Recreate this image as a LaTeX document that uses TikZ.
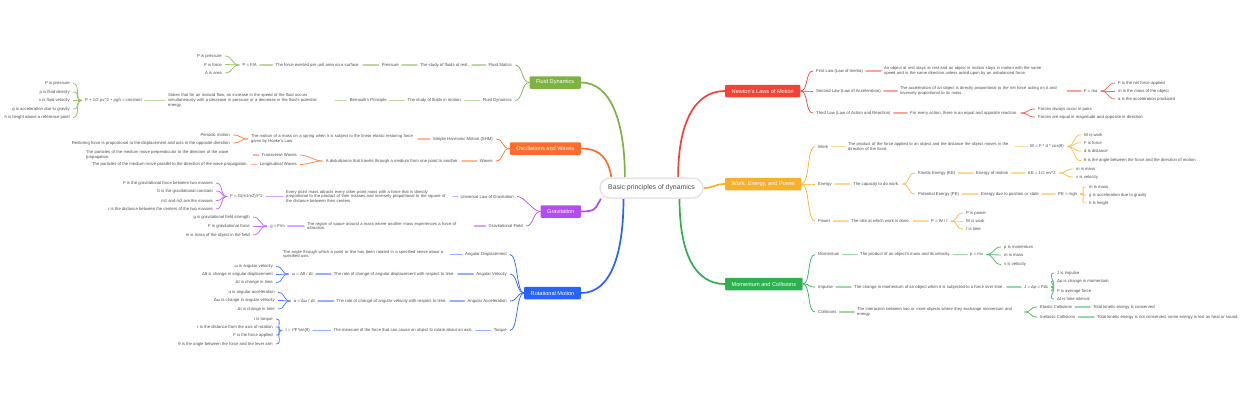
\documentclass[tikz,border=0pt]{standalone}
\usepackage{fontspec}
\setmainfont{Liberation Sans}
\usetikzlibrary{backgrounds}

\definecolor{fluidC}{HTML}{7CB342}
\definecolor{oscC}{HTML}{FF6D2D}
\definecolor{gravC}{HTML}{B34CF3}
\definecolor{rotC}{HTML}{2962FF}
\definecolor{newtC}{HTML}{F44336}
\definecolor{workC}{HTML}{F7B02A}
\definecolor{momC}{HTML}{2DB14F}
\definecolor{txtC}{HTML}{4D4D4D}

\tikzset{
  root/.style={
    draw=gray!20, line width=1.5pt, fill=white, rounded corners=10pt,
    minimum width=103pt, minimum height=20pt, text=txtC,
    font=\fontsize{6.9}{8}\selectfont
  },
  topic/.style={
    fill=#1, text=white, rounded corners=1pt,
    minimum height=12.5pt, inner xsep=6.5pt,
    font=\fontsize{5.6}{6.5}\selectfont
  },
  sub/.style={
    text=txtC, inner xsep=3pt, inner ysep=1pt,
    font=\fontsize{4.25}{4.7}\selectfont
  },
  desc/.style={sub, text width=164pt, align=left,
    font=\fontsize{4.15}{4.7}\selectfont},
  trunk/.style={draw=#1, line width=1.7pt},
  twig/.style={draw=#1, line width=0.7pt},
  brc/.style={draw=#1!80, line width=0.8pt},
  lnk/.style={draw=#1!50, line width=1.5pt, line cap=round},
  br/.style={out=0, in=180, distance=8pt},
  bl/.style={out=180, in=0, distance=8pt}
}

\begin{document}
\begin{tikzpicture}[x=1pt, y=-1pt]
\useasboundingbox (0,0) rectangle (1240,400);

% ---------- centre ----------
\node[root] (root) at (651.5,188) {Basic principles of dynamics};

% ---------- Fluid Dynamics ----------
\node[topic=fluidC, anchor=east] (fluid) at (581,82.5) {Fluid Dynamics};
\node[sub, anchor=east] (statics) at (515,65) {Fluid Statics};
\node[sub, anchor=east] (staticsD) at (472,65) {The study of fluids at rest.};
\node[sub, anchor=east] (press) at (402,65) {Pressure};
\node[sub, anchor=east] (pressD) at (363,65) {The force exerted per unit area on a surface.};
\node[sub, anchor=east] (pressF) at (260,65) {P = F/A};
\node[sub, anchor=east] (pressF1) at (225,56) {P is pressure};
\node[sub, anchor=east] (pressF2) at (225,64.5) {F is force};
\node[sub, anchor=east] (pressF3) at (225,73) {A is area};
\node[sub, anchor=east] (fdyn) at (515,100.5) {Fluid Dynamics};
\node[sub, anchor=east] (fdynD) at (465,100.5) {The study of fluids in motion.};
\node[sub, anchor=east] (bern) at (390,100.5) {Bernoulli's Principle};
\node[desc, anchor=west] (bernD) at (165,100.5) {States that for an inviscid flow, an increase in the speed of the fluid occurs\\simultaneously with a decrease in pressure or a decrease in the fluid's potential\\energy.};
\node[sub, anchor=east] (bernF) at (145,100.5) {P + 1/2 ρv\textasciicircum 2 + ρgh = constant};
\node[sub, anchor=east] (bernF1) at (73,83.5) {P is pressure};
\node[sub, anchor=east] (bernF2) at (73,92) {ρ is fluid density};
\node[sub, anchor=east] (bernF3) at (73,100.5) {v is fluid velocity};
\node[sub, anchor=east] (bernF4) at (73,109) {g is acceleration due to gravity};
\node[sub, anchor=east] (bernF5) at (73,117.5) {h is height above a reference point};

\draw[twig=fluidC] (fluid.west) to[bl] (statics.east);
\draw[twig=fluidC] (fluid.west) to[bl] (fdyn.east);
\draw[lnk=fluidC] (statics) -- (staticsD);
\draw[lnk=fluidC] (staticsD) -- (press);
\draw[lnk=fluidC] (press) -- (pressD);
\draw[lnk=fluidC] (pressD) -- (pressF);
\draw[brc=fluidC] (pressF.west) to[bl] (pressF1.east);
\draw[brc=fluidC] (pressF.west) to[bl] (pressF2.east);
\draw[brc=fluidC] (pressF.west) to[bl] (pressF3.east);
\draw[lnk=fluidC] (fdyn) -- (fdynD);
\draw[lnk=fluidC] (fdynD) -- (bern);
\draw[lnk=fluidC] (bern) -- (bernD);
\draw[lnk=fluidC] (bernD) -- (bernF);
\draw[brc=fluidC] (bernF.west) to[bl] (bernF1.east);
\draw[brc=fluidC] (bernF.west) to[bl] (bernF2.east);
\draw[brc=fluidC] (bernF.west) to[bl] (bernF3.east);
\draw[brc=fluidC] (bernF.west) to[bl] (bernF4.east);
\draw[brc=fluidC] (bernF.west) to[bl] (bernF5.east);

% ---------- Oscillations and Waves ----------
\node[topic=oscC, anchor=east] (osc) at (581,148.5) {Oscillations and Waves};
\node[sub, anchor=east] (shm) at (496,139) {Simple Harmonic Motion (SHM)};
\node[desc, anchor=west] (shmD) at (248,139) {The motion of a mass on a spring when it is subject to the linear elastic restoring force\\given by Hooke's Law.};
\node[sub, anchor=east] (shm1) at (233,135) {Periodic motion};
\node[sub, anchor=east] (shm2) at (233,143) {Restoring force is proportional to the displacement and acts in the opposite direction};
\node[sub, anchor=east] (waves) at (496,161) {Waves};
\node[sub, anchor=east] (wavesD) at (462,161) {A disturbance that travels through a medium from one point to another.};
\node[sub, anchor=east] (trans) at (300,155) {Transverse Waves};
\node[desc, anchor=west] (transD) at (83,155) {The particles of the medium move perpendicular to the direction of the wave\\propagation.};
\node[sub, anchor=east] (longi) at (300,164.5) {Longitudinal Waves};
\node[sub, anchor=east] (longiD) at (251,164.5) {The particles of the medium move parallel to the direction of the wave propagation.};

\draw[twig=oscC] (osc.west) to[bl] (shm.east);
\draw[twig=oscC] (osc.west) to[bl] (waves.east);
\draw[lnk=oscC] (shm) -- (shmD);
\draw[brc=oscC] (shmD.west) to[bl] (shm1.east);
\draw[brc=oscC] (shmD.west) to[bl] (shm2.east);
\draw[lnk=oscC] (waves) -- (wavesD);
\draw[brc=oscC] (wavesD.west) to[bl] (trans.east);
\draw[brc=oscC] (wavesD.west) to[bl] (longi.east);
\draw[lnk=oscC] (trans) -- (transD);
\draw[lnk=oscC] (longi) -- (longiD);

% ---------- Gravitation ----------
\node[topic=gravC, anchor=east] (grav) at (581,211.5) {Gravitation};
\node[sub, anchor=east] (ulg) at (517,196.5) {Universal Law of Gravitation};
\node[desc, anchor=west] (ulgD) at (283,196.5) {Every point mass attracts every other point mass with a force that is directly\\proportional to the product of their masses and inversely proportional to the square of\\the distance between their centers.};
\node[sub, anchor=east] (ulgF) at (266,196.5) {F = G(m1m2)/r\textasciicircum 2};
\node[sub, anchor=east] (ulgF1) at (216,183) {F is the gravitational force between two masses};
\node[sub, anchor=east] (ulgF2) at (216,191) {G is the gravitational constant};
\node[sub, anchor=east] (ulgF3) at (216,200.5) {m1 and m2 are the masses};
\node[sub, anchor=east] (ulgF4) at (216,209) {r is the distance between the centers of the two masses};
\node[sub, anchor=east] (field) at (526,226) {Gravitational Field};
\node[desc, anchor=west] (fieldD) at (304,226) {The region of space around a mass where another mass experiences a force of\\attraction.};
\node[sub, anchor=east] (fieldF) at (288,226) {g = F/m};
\node[sub, anchor=east] (fieldF1) at (253,217) {g is gravitational field strength};
\node[sub, anchor=east] (fieldF2) at (253,226) {F is gravitational force};
\node[sub, anchor=east] (fieldF3) at (253,235) {m is mass of the object in the field};

\draw[twig=gravC] (grav.west) to[bl] (ulg.east);
\draw[twig=gravC] (grav.west) to[bl] (field.east);
\draw[lnk=gravC] (ulg) -- (ulgD);
\draw[lnk=gravC] (ulgD) -- (ulgF);
\draw[brc=gravC] (ulgF.west) to[bl] (ulgF1.east);
\draw[brc=gravC] (ulgF.west) to[bl] (ulgF2.east);
\draw[brc=gravC] (ulgF.west) to[bl] (ulgF3.east);
\draw[brc=gravC] (ulgF.west) to[bl] (ulgF4.east);
\draw[lnk=gravC] (field) -- (fieldD);
\draw[lnk=gravC] (fieldD) -- (fieldF);
\draw[brc=gravC] (fieldF.west) to[bl] (fieldF1.east);
\draw[brc=gravC] (fieldF.west) to[bl] (fieldF2.east);
\draw[brc=gravC] (fieldF.west) to[bl] (fieldF3.east);

% ---------- Rotational Motion ----------
\node[topic=rotC, anchor=east] (rot) at (581,293) {Rotational Motion};
\node[sub, anchor=east] (angD) at (510,254.5) {Angular Displacement};
\node[desc, anchor=west] (angDD) at (280,254.5) {The angle through which a point or line has been rotated in a specified sense about a\\specified axis.};
\node[sub, anchor=east] (angV) at (510,274) {Angular Velocity};
\node[sub, anchor=east] (angVD) at (458,274) {The rate of change of angular displacement with respect to time.};
\node[sub, anchor=east] (angVF) at (316,274) {ω = Δθ / Δt};
\node[sub, anchor=east] (angVF1) at (276,266.5) {ω is angular velocity};
\node[sub, anchor=east] (angVF2) at (276,274.5) {Δθ is change in angular displacement};
\node[sub, anchor=east] (angVF3) at (276,282.5) {Δt is change in time};
\node[sub, anchor=east] (angA) at (510,301) {Angular Acceleration};
\node[sub, anchor=east] (angAD) at (450,301) {The rate of change of angular velocity with respect to time.};
\node[sub, anchor=east] (angAF) at (318,301) {α = Δω / Δt};
\node[sub, anchor=east] (angAF1) at (278,292.5) {α is angular acceleration};
\node[sub, anchor=east] (angAF2) at (278,300.5) {Δω is change in angular velocity};
\node[sub, anchor=east] (angAF3) at (278,309) {Δt is change in time};
\node[sub, anchor=east] (torq) at (510,330.5) {Torque};
\node[sub, anchor=east] (torqD) at (476,330.5) {The measure of the force that can cause an object to rotate about an axis.};
\node[sub, anchor=east] (torqF) at (313,330.5) {τ = r*F*sin(θ)};
\node[sub, anchor=east] (torqF1) at (276,319) {τ is torque};
\node[sub, anchor=east] (torqF2) at (276,327) {r is the distance from the axis of rotation};
\node[sub, anchor=east] (torqF3) at (276,335) {F is the force applied};
\node[sub, anchor=east] (torqF4) at (276,344) {θ is the angle between the force and the lever arm};

\draw[twig=rotC] (rot.west) to[bl] (angD.east);
\draw[twig=rotC] (rot.west) to[bl] (angV.east);
\draw[twig=rotC] (rot.west) to[bl] (angA.east);
\draw[twig=rotC] (rot.west) to[bl] (torq.east);
\draw[lnk=rotC] (angD) -- (angDD);
\draw[lnk=rotC] (angV) -- (angVD);
\draw[lnk=rotC] (angVD) -- (angVF);
\draw[brc=rotC] (angVF.west) to[bl] (angVF1.east);
\draw[brc=rotC] (angVF.west) to[bl] (angVF2.east);
\draw[brc=rotC] (angVF.west) to[bl] (angVF3.east);
\draw[lnk=rotC] (angA) -- (angAD);
\draw[lnk=rotC] (angAD) -- (angAF);
\draw[brc=rotC] (angAF.west) to[bl] (angAF1.east);
\draw[brc=rotC] (angAF.west) to[bl] (angAF2.east);
\draw[brc=rotC] (angAF.west) to[bl] (angAF3.east);
\draw[lnk=rotC] (torq) -- (torqD);
\draw[lnk=rotC] (torqD) -- (torqF);
\draw[brc=rotC] (torqF.west) to[bl] (torqF1.east);
\draw[brc=rotC] (torqF.west) to[bl] (torqF2.east);
\draw[brc=rotC] (torqF.west) to[bl] (torqF3.east);
\draw[brc=rotC] (torqF.west) to[bl] (torqF4.east);

% ---------- Newton's Laws of Motion ----------
\node[topic=newtC, anchor=west] (newton) at (725,91) {Newton's Laws of Motion};
\node[sub, anchor=west] (law1) at (813,71) {First Law (Law of Inertia)};
\node[desc, anchor=west] (law1D) at (881,71) {An object at rest stays at rest and an object in motion stays in motion with the same\\speed and in the same direction unless acted upon by an unbalanced force.};
\node[sub, anchor=west] (law2) at (813,91) {Second Law (Law of Acceleration)};
\node[desc, anchor=west] (law2D) at (897,91) {The acceleration of an object is directly proportional to the net force acting on it and\\inversely proportional to its mass.};
\node[sub, anchor=west] (law2F) at (1081,91) {F = ma};
\node[sub, anchor=west] (law2F1) at (1115,83) {F is the net force applied};
\node[sub, anchor=west] (law2F2) at (1115,91) {m is the mass of the object};
\node[sub, anchor=west] (law2F3) at (1115,99) {a is the acceleration produced};
\node[sub, anchor=west] (law3) at (813,113) {Third Law (Law of Action and Reaction)};
\node[sub, anchor=west] (law3D) at (907,113) {For every action, there is an equal and opposite reaction.};
\node[sub, anchor=west] (law3D1) at (1035,109) {Forces always occur in pairs};
\node[sub, anchor=west] (law3D2) at (1035,117) {Forces are equal in magnitude and opposite in direction};

\draw[twig=newtC] (newton.east) to[br] (law1.west);
\draw[twig=newtC] (newton.east) to[br] (law2.west);
\draw[twig=newtC] (newton.east) to[br] (law3.west);
\draw[lnk=newtC] (law1) -- (law1D);
\draw[lnk=newtC] (law2) -- (law2D);
\draw[lnk=newtC] (law2D) -- (law2F);
\draw[brc=newtC] (law2F.east) to[br] (law2F1.west);
\draw[brc=newtC] (law2F.east) to[br] (law2F2.west);
\draw[brc=newtC] (law2F.east) to[br] (law2F3.west);
\draw[lnk=newtC] (law3) -- (law3D);
\draw[brc=newtC] (law3D.east) to[br] (law3D1.west);
\draw[brc=newtC] (law3D.east) to[br] (law3D2.west);

% ---------- Work, Energy, and Power ----------
\node[topic=workC, anchor=west] (work) at (725,184) {Work, Energy, and Power};
\node[sub, anchor=west] (wk) at (815,146.5) {Work};
\node[desc, anchor=west] (wkD) at (845,146.5) {The product of the force applied to an object and the distance the object moves in the\\direction of the force.};
\node[sub, anchor=west] (wkF) at (1027,146.5) {W = F * d * cos(θ)};
\node[sub, anchor=west] (wkF1) at (1081,134.7) {W is work};
\node[sub, anchor=west] (wkF2) at (1081,142.7) {F is force};
\node[sub, anchor=west] (wkF3) at (1081,151) {d is distance};
\node[sub, anchor=west] (wkF4) at (1081,160.7) {θ is the angle between the force and the direction of motion};
\node[sub, anchor=west] (enrg) at (815,184) {Energy};
\node[sub, anchor=west] (enrgD) at (850,184) {The capacity to do work.};
\node[sub, anchor=west] (kin) at (915,173) {Kinetic Energy (KE)};
\node[sub, anchor=west] (kinD) at (973,173) {Energy of motion};
\node[sub, anchor=west] (kinF) at (1025,173) {KE = 1/2 mv\textasciicircum 2};
\node[sub, anchor=west] (kinF1) at (1073,169) {m is mass};
\node[sub, anchor=west] (kinF2) at (1073,177) {v is velocity};
\node[sub, anchor=west] (pot) at (915,194) {Potential Energy (PE)};
\node[sub, anchor=west] (potD) at (978,194) {Energy due to position or state};
\node[sub, anchor=west] (potF) at (1055,194) {PE = mgh};
\node[sub, anchor=west] (potF1) at (1086,187) {m is mass};
\node[sub, anchor=west] (potF2) at (1086,195) {g is acceleration due to gravity};
\node[sub, anchor=west] (potF3) at (1086,203) {h is height};
\node[sub, anchor=west] (pow) at (815,221) {Power};
\node[sub, anchor=west] (powD) at (848,221) {The rate at which work is done.};
\node[sub, anchor=west] (powF) at (928,221) {P = W / t};
\node[sub, anchor=west] (powF1) at (963,213) {P is power};
\node[sub, anchor=west] (powF2) at (963,221) {W is work};
\node[sub, anchor=west] (powF3) at (963,229) {t is time};

\draw[twig=workC] (work.east) to[br] (wk.west);
\draw[twig=workC] (work.east) to[br] (enrg.west);
\draw[twig=workC] (work.east) to[br] (pow.west);
\draw[lnk=workC] (wk) -- (wkD);
\draw[lnk=workC] (wkD) -- (wkF);
\draw[brc=workC] (wkF.east) to[br] (wkF1.west);
\draw[brc=workC] (wkF.east) to[br] (wkF2.west);
\draw[brc=workC] (wkF.east) to[br] (wkF3.west);
\draw[brc=workC] (wkF.east) to[br] (wkF4.west);
\draw[lnk=workC] (enrg) -- (enrgD);
\draw[brc=workC] (enrgD.east) to[br] (kin.west);
\draw[brc=workC] (enrgD.east) to[br] (pot.west);
\draw[lnk=workC] (kin) -- (kinD);
\draw[lnk=workC] (kinD) -- (kinF);
\draw[brc=workC] (kinF.east) to[br] (kinF1.west);
\draw[brc=workC] (kinF.east) to[br] (kinF2.west);
\draw[lnk=workC] (pot) -- (potD);
\draw[lnk=workC] (potD) -- (potF);
\draw[brc=workC] (potF.east) to[br] (potF1.west);
\draw[brc=workC] (potF.east) to[br] (potF2.west);
\draw[brc=workC] (potF.east) to[br] (potF3.west);
\draw[lnk=workC] (pow) -- (powD);
\draw[lnk=workC] (powD) -- (powF);
\draw[brc=workC] (powF.east) to[br] (powF1.west);
\draw[brc=workC] (powF.east) to[br] (powF2.west);
\draw[brc=workC] (powF.east) to[br] (powF3.west);

% ---------- Momentum and Collisions ----------
\node[topic=momC, anchor=west] (mom) at (725,284) {Momentum and Collisions};
\node[sub, anchor=west] (momt) at (815,254.5) {Momentum};
\node[sub, anchor=west] (momtD) at (857,254.5) {The product of an object's mass and its velocity.};
\node[sub, anchor=west] (momtF) at (967,254.5) {p = mv};
\node[sub, anchor=west] (momtF1) at (1001,247) {p is momentum};
\node[sub, anchor=west] (momtF2) at (1001,255) {m is mass};
\node[sub, anchor=west] (momtF3) at (1001,264.5) {v is velocity};
\node[sub, anchor=west] (imp) at (815,287) {Impulse};
\node[sub, anchor=west] (impD) at (851,287) {The change in momentum of an object when it is subjected to a force over time.};
\node[sub, anchor=west] (impF) at (1021,287) {J = Δp = FΔt};
\node[sub, anchor=west] (impF1) at (1054,273) {J is impulse};
\node[sub, anchor=west] (impF2) at (1054,281) {Δp is change in momentum};
\node[sub, anchor=west] (impF3) at (1054,291) {F is average force};
\node[sub, anchor=west] (impF4) at (1054,299) {Δt is time interval};
\node[sub, anchor=west] (coll) at (815,312) {Collisions};
\node[desc, anchor=west] (collD) at (854,312) {The interaction between two or more objects where they exchange momentum and\\energy.};
\node[sub, anchor=west] (elas) at (1037,307) {Elastic Collisions};
\node[sub, anchor=west] (elasD) at (1090,307) {Total kinetic energy is conserved};
\node[sub, anchor=west] (inel) at (1037,317) {Inelastic Collisions};
\node[sub, anchor=west] (inelD) at (1094,317) {Total kinetic energy is not conserved, some energy is lost as heat or sound.};

\draw[twig=momC] (mom.east) to[br] (momt.west);
\draw[twig=momC] (mom.east) to[br] (imp.west);
\draw[twig=momC] (mom.east) to[br] (coll.west);
\draw[lnk=momC] (momt) -- (momtD);
\draw[lnk=momC] (momtD) -- (momtF);
\draw[brc=momC] (momtF.east) to[br] (momtF1.west);
\draw[brc=momC] (momtF.east) to[br] (momtF2.west);
\draw[brc=momC] (momtF.east) to[br] (momtF3.west);
\draw[lnk=momC] (imp) -- (impD);
\draw[lnk=momC] (impD) -- (impF);
\draw[brc=momC] (impF.east) to[br] (impF1.west);
\draw[brc=momC] (impF.east) to[br] (impF2.west);
\draw[brc=momC] (impF.east) to[br] (impF3.west);
\draw[brc=momC] (impF.east) to[br] (impF4.west);
\draw[lnk=momC] (coll) -- (collD);
\draw[brc=momC] (collD.east) to[br] (elas.west);
\draw[brc=momC] (collD.east) to[br] (inel.west);
\draw[lnk=momC] (elas) -- (elasD);
\draw[lnk=momC] (inel) -- (inelD);

% ---------- main branches ----------
\begin{scope}[on background layer]
\fill[white] (0,0) rectangle (1240,400);
\draw[trunk=fluidC] (root.158) .. controls +(0,-55) and +(30,0) .. (fluid.east);
\draw[trunk=oscC] (root.165) .. controls +(-3,-18) and +(20,0) .. (osc.east);
\draw[trunk=gravC] (root.192) .. controls +(-6,10) and +(15,0) .. (grav.east);
\draw[trunk=rotC] (root.201) .. controls +(0,55) and +(30,0) .. (rot.east);
\draw[trunk=newtC] (root.22) .. controls +(0,-55) and +(-30,0) .. (newton.west);
\draw[trunk=workC] (root.east) .. controls +(10,0) and +(-10,0) .. (work.west);
\draw[trunk=momC] (root.339) .. controls +(0,55) and +(-30,0) .. (mom.west);
\end{scope}

\end{tikzpicture}
\end{document}
